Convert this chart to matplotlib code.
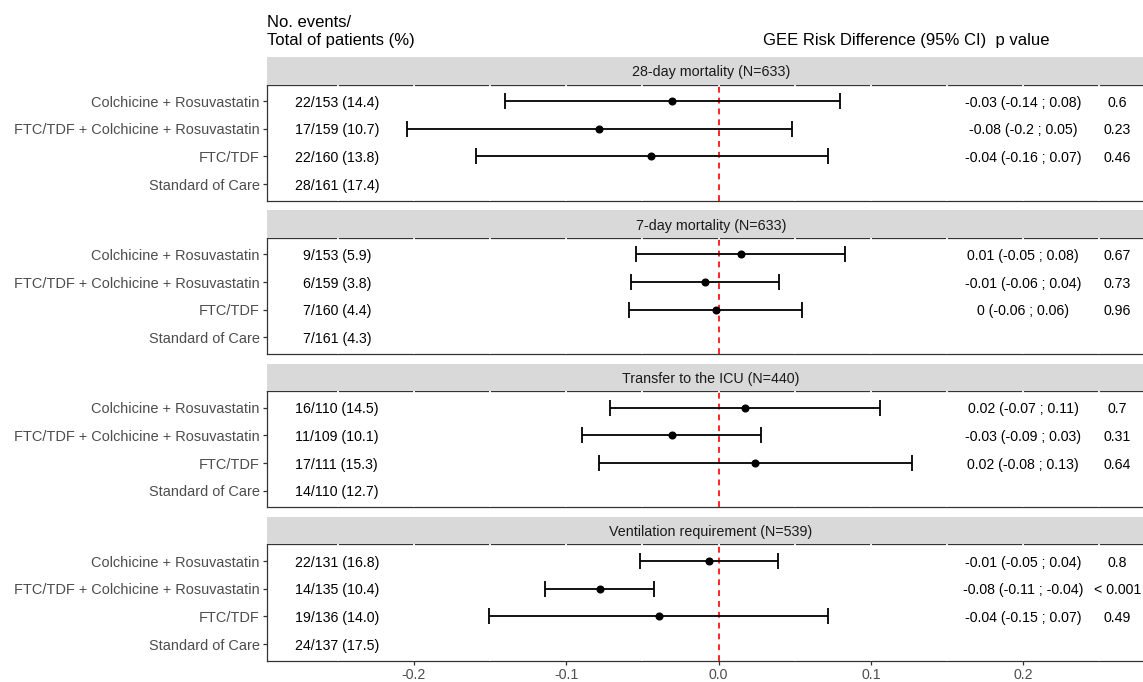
import numpy as np
import matplotlib
matplotlib.use("Agg")
import matplotlib.pyplot as plt

plt.rcParams["font.family"] = ["Liberation Sans", "DejaVu Sans"]

# groups, top to bottom
groups = ["Colchicine + Rosuvastatin",
          "FTC/TDF + Colchicine + Rosuvastatin",
          "FTC/TDF",
          "Standard of Care"]

outcomes = ["28-day mortality (N=633)",
            "7-day mortality (N=633)",
            "Transfer to the ICU (N=440)",
            "Ventilation requirement (N=539)"]

# events / total (%) per outcome, one entry per group
counts = [
    ["22/153 (14.4)", "17/159 (10.7)", "22/160 (13.8)", "28/161 (17.4)"],
    ["9/153 (5.9)", "6/159 (3.8)", "7/160 (4.4)", "7/161 (4.3)"],
    ["16/110 (14.5)", "11/109 (10.1)", "17/111 (15.3)", "14/110 (12.7)"],
    ["22/131 (16.8)", "14/135 (10.4)", "19/136 (14.0)", "24/137 (17.5)"],
]

# risk difference vs standard of care (first three groups only)
rd_est = [
    [-0.0303, -0.0785, -0.0441],
    [0.0146, -0.0089, -0.0018],
    [0.0172, -0.0307, 0.0242],
    [-0.0062, -0.0780, -0.0393],
]
rd_lo = [
    [-0.1404, -0.2049, -0.1594],
    [-0.0540, -0.0572, -0.0585],
    [-0.0714, -0.0896, -0.0782],
    [-0.0513, -0.1139, -0.1507],
]
rd_hi = [
    [0.0800, 0.0483, 0.0717],
    [0.0833, 0.0397, 0.0551],
    [0.1058, 0.0282, 0.1268],
    [0.0390, -0.0424, 0.0720],
]
ci_labels = [
    ["-0.03 (-0.14 ; 0.08)", "-0.08 (-0.2 ; 0.05)", "-0.04 (-0.16 ; 0.07)"],
    ["0.01 (-0.05 ; 0.08)", "-0.01 (-0.06 ; 0.04)", "0 (-0.06 ; 0.06)"],
    ["0.02 (-0.07 ; 0.11)", "-0.03 (-0.09 ; 0.03)", "0.02 (-0.08 ; 0.13)"],
    ["-0.01 (-0.05 ; 0.04)", "-0.08 (-0.11 ; -0.04)", "-0.04 (-0.15 ; 0.07)"],
]
p_labels = [
    ["0.6", "0.23", "0.46"],
    ["0.67", "0.73", "0.96"],
    ["0.7", "0.31", "0.64"],
    ["0.8", "< 0.001", "0.49"],
]

x_ticks = [-0.2, -0.1, 0.0, 0.1, 0.2]
x_tick_labels = ["-0.2", "-0.1", "0.0", "0.1", "0.2"]

# layout in pixels
W, H = 1143, 682
left_px, right_px = 266.7, 1155
panel_tops = [84.5, 237.8, 391.1, 544.4]
panel_h = 116.3
strip_h = 27.5
xlim = (-0.2967, 0.2866)

fig = plt.figure(figsize=(W / 100, H / 100), dpi=100)

dark = "#333333"
grey_txt = "#4D4D4D"
ypos = np.arange(len(groups))[::-1] + 1  # top row = 4

for k in range(len(outcomes)):
    top = panel_tops[k]
    ax = fig.add_axes([left_px / W, 1 - (top + panel_h) / H,
                       (right_px - left_px) / W, panel_h / H])
    ax.set_xlim(*xlim)
    ax.set_ylim(0.4, 4.6)
    for s in ax.spines.values():
        s.set_color(dark)
        s.set_linewidth(0.9)

    # white grid lines, visible only where they cut the border
    for g in np.arange(-0.25, 0.3, 0.05):
        ax.axvline(g, color="white", lw=1.3, zorder=2.6)

    ax.axvline(0, color="red", lw=1.2, ls=(0, (3.5, 3)), zorder=3.5)

    y3 = ypos[:3]
    est = np.array(rd_est[k])
    lo = np.array(rd_lo[k])
    hi = np.array(rd_hi[k])
    ax.errorbar(est, y3, xerr=[est - lo, hi - est], fmt="o", color="black",
                ms=4.8, elinewidth=1.3, capsize=5.5, capthick=1.3, zorder=4)

    for i in range(len(groups)):
        ax.text(-0.2507, ypos[i], counts[k][i], ha="center",
                va="center_baseline", fontsize=10.2, color="black", zorder=5)
    for i in range(3):
        ax.text(0.200, ypos[i], ci_labels[k][i], ha="center",
                va="center_baseline", fontsize=10.2, color="black", zorder=5)
        ax.text(0.262, ypos[i], p_labels[k][i], ha="center",
                va="center_baseline", fontsize=10.2, color="black", zorder=5)

    ax.set_yticks(ypos)
    ax.set_yticklabels(groups, fontsize=10.45, color=grey_txt)
    ax.tick_params(axis="y", length=3, width=0.9, color=dark, pad=2)
    if k == len(outcomes) - 1:
        ax.set_xticks(x_ticks)
        ax.set_xticklabels(x_tick_labels, fontsize=10.2, color=grey_txt)
        ax.tick_params(axis="x", length=3, width=0.9, color=dark, pad=2)
    else:
        ax.set_xticks([])

    # facet strip
    sax = fig.add_axes([left_px / W, 1 - top / H,
                        (right_px - left_px) / W, strip_h / H])
    sax.set_facecolor("#D9D9D9")
    sax.set_xticks([])
    sax.set_yticks([])
    for s in sax.spines.values():
        s.set_visible(False)
    sax.text(0.5, 0.5, outcomes[k], transform=sax.transAxes, ha="center",
             va="center_baseline", fontsize=10.3, color="#1A1A1A")

# column headers
fig.text(left_px / W, 1 - 27 / H, "No. events/", fontsize=12, va="baseline",
         ha="left", color="black")
fig.text(left_px / W, 1 - 45 / H, "Total of patients (%)", fontsize=12,
         va="baseline", ha="left", color="black")
fig.text(763 / W, 1 - 45 / H, "GEE Risk Difference (95% CI)  p value",
         fontsize=12, va="baseline", ha="left", color="black")

fig.savefig("out.png", dpi=100)
